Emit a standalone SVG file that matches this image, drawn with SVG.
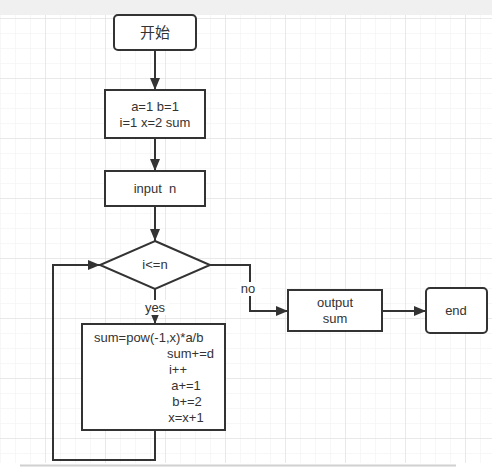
<svg xmlns="http://www.w3.org/2000/svg" width="492" height="467" viewBox="0 0 492 467">
<defs>
<pattern id="minor" x="0" y="3" width="15" height="15" patternUnits="userSpaceOnUse">
<path d="M0 0H15M0 0V15" fill="none" stroke="#efefef" stroke-width="1"/>
</pattern>
<pattern id="major" x="45" y="18" width="60" height="60" patternUnits="userSpaceOnUse">
<path d="M0 0H60M0 0V60" fill="none" stroke="#dcdcdc" stroke-width="1"/>
</pattern>
<marker id="arr" viewBox="0 0 12 10" refX="12" refY="5" markerWidth="12" markerHeight="10" markerUnits="userSpaceOnUse" orient="auto">
<path d="M0 0L12 5L0 10Z" fill="#333"/>
</marker>
<style>
.n{fill:#fff;stroke:#333;stroke-width:2}
.c{fill:none;stroke:#333;stroke-width:2}
text{font-family:"Liberation Sans","Noto Sans CJK SC",sans-serif;font-size:13px;fill:#333}
.cjk{font-family:"Noto Sans CJK SC",sans-serif;font-size:15px}
.m{text-anchor:middle}
</style>
</defs>
<rect x="0" y="0" width="492" height="467" fill="#fff"/>
<rect x="0" y="15" width="492" height="448" fill="url(#minor)"/>
<rect x="0" y="15" width="492" height="448" fill="url(#major)"/>
<rect x="0" y="0" width="492" height="15" fill="#f0f0f0"/>
<line x1="20" y1="465.5" x2="456" y2="465.5" stroke="#d0d0d0" stroke-width="2"/>
<g id="connectors">
<line class="c" x1="155" y1="50" x2="155" y2="90" marker-end="url(#arr)"/>
<line class="c" x1="155" y1="138" x2="155" y2="171" marker-end="url(#arr)"/>
<line class="c" x1="155" y1="206" x2="155" y2="241" marker-end="url(#arr)"/>
<line class="c" x1="155" y1="289" x2="155" y2="324" marker-end="url(#arr)"/>
<polyline class="c" points="155,430 155,460 53,460 53,265 100,265" marker-end="url(#arr)"/>
<polyline class="c" points="210,265 250,265 250,311 288,311" marker-end="url(#arr)"/>
<line class="c" x1="382" y1="311" x2="426" y2="311" marker-end="url(#arr)"/>
<rect x="141" y="300" width="28" height="15" fill="#fff"/>
<text class="m" x="155" y="312">yes</text>
<rect x="237" y="282" width="24" height="14" fill="#fff"/>
<text class="m" x="248" y="293">no</text>
</g>
<g id="start">
<rect class="n" x="114" y="15" width="82" height="35" rx="4"/>
<text class="m cjk" x="155" y="38">开始</text>
</g>
<g id="init">
<rect class="n" x="105" y="90" width="100" height="48"/>
<text class="m" x="155" y="111">a=1 b=1</text>
<text class="m" x="155" y="127">i=1 x=2 sum</text>
</g>
<g id="input">
<rect class="n" x="105" y="171" width="100" height="35"/>
<text class="m" x="155" y="193" xml:space="preserve">input  n</text>
</g>
<g id="cond">
<polygon class="n" points="155,241 210,265 155,289 100,265"/>
<text class="m" x="155" y="269">i&lt;=n</text>
</g>
<g id="body">
<rect class="n" x="82" y="324" width="143" height="106"/>
<text x="94" y="342">sum=pow(-1,x)*a/b</text>
<text x="214" y="358" text-anchor="end">sum+=d</text>
<text class="m" x="178" y="374">i++</text>
<text class="m" x="186" y="390">a+=1</text>
<text class="m" x="187" y="406">b+=2</text>
<text class="m" x="186" y="422">x=x+1</text>
</g>
<g id="output">
<rect class="n" x="288" y="290" width="94" height="41"/>
<text class="m" x="335" y="307">output</text>
<text class="m" x="335" y="323">sum</text>
</g>
<g id="end">
<rect class="n" x="426" y="288" width="61" height="45" rx="4"/>
<text class="m" x="456" y="315">end</text>
</g>
</svg>
